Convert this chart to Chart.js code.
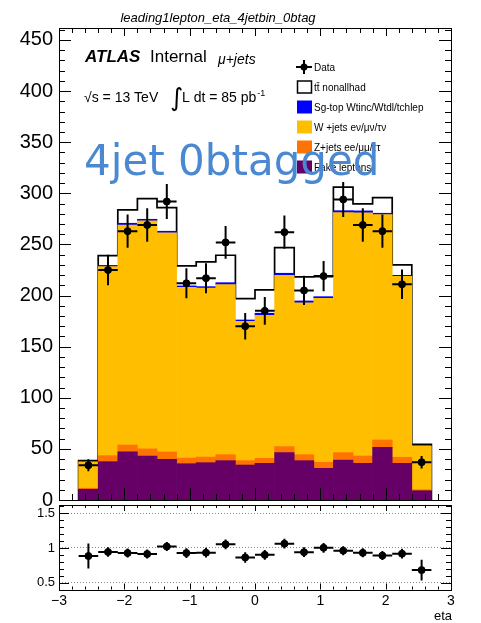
<!DOCTYPE html>
<html>
<head>
<meta charset="utf-8">
<script src="https://cdn.jsdelivr.net/npm/chart.js@4.4.1/dist/chart.umd.min.js"></script>
<style>
  html, body { margin: 0; padding: 0; background: #fff; }
  #wrap { position: relative; width: 481px; height: 623px; overflow: hidden; }
  #mainCanvas { position: absolute; left: 0; top: 0; }
  #ratioCanvas { position: absolute; left: 0; top: 500px; }
</style>
</head>
<body>
<div id="wrap">
  <canvas id="mainCanvas" width="481" height="510"></canvas>
  <canvas id="ratioCanvas" width="481" height="123"></canvas>
</div>
<script>
"use strict";

// eta bins (width 0.3)
const binCenters = [-2.55, -2.25, -1.95, -1.65, -1.35, -1.05, -0.75, -0.45, -0.15,
                    0.15, 0.45, 0.75, 1.05, 1.35, 1.65, 1.95, 2.25, 2.55];
const binEdges = [-2.7, -2.4, -2.1, -1.8, -1.5, -1.2, -0.9, -0.6, -0.3, 0,
                  0.3, 0.6, 0.9, 1.2, 1.5, 1.8, 2.1, 2.4, 2.7];

// stacked backgrounds, bottom to top
const fakeLeptons = [10.5, 37.5, 47, 43, 39.8, 35.5, 36.5, 38.5, 34.2, 35.9, 46.3, 38.5, 31, 39, 35.9, 51.5, 35.9, 9.1];
const zJets       = [1.0, 5.9, 6.8, 7, 7.2, 5.5, 5.5, 5.8, 4.3, 4.9, 5.9, 5.8, 5.9, 7.3, 7.1, 7.2, 5.9, 0.9];
const wJets       = [25.8, 184.9, 215, 223, 214.3, 167, 165.4, 166.4, 136.3, 139.9, 167.6, 148.5, 160.4, 234.8, 237.8, 220.5, 177.1, 42.8];
const singleTop   = [0.5, 1.2, 1.9, 1.6, 1.6, 1.4, 1.3, 1.9, 1.3, 2.0, 2.0, 1.9, 1.6, 1.9, 2.0, 1.3, 0.9, 0.4];
const ttbar       = [0.7, 9.5, 13.1, 20.2, 23.1, 19.6, 24.2, 26.8, 20.9, 22.8, 25.1, 23.5, 19.6, 23, 6.8, 15.3, 10.2, 1.2];

// data
const dataCounts = [34, 225, 263, 269, 292, 212, 217, 252, 170, 185, 262, 205, 219, 294, 269, 263, 211, 37];
const dataErr    = [5.8, 15, 16.2, 16.4, 17.1, 14.6, 14.7, 15.9, 13, 13.6, 16.2, 14.3, 14.8, 17.1, 16.4, 16.2, 14.5, 6.1];
const ratioErr   = [0.18, 0.07, 0.065, 0.065, 0.065, 0.07, 0.07, 0.07, 0.075, 0.07, 0.07, 0.07, 0.07, 0.065, 0.065, 0.065, 0.07, 0.15];

// tick labels
const mainYTicks = [0, 50, 100, 150, 200, 250, 300, 350, 400, 450];
const ratioXTicks = [-3, -2, -1, 0, 1, 2, 3];
const ratioYTicks = [0.5, 1, 1.5];

const COL = {
  fake: '#660066',
  z: '#ff7300',
  w: '#ffbf00',
  top: '#0000ff',
  tt: '#ffffff'
};
const FONT = 'Liberation Sans';

const totals = binCenters.map((_, i) => fakeLeptons[i] + zJets[i] + wJets[i] + singleTop[i] + ttbar[i]);
const ratio = binCenters.map((_, i) => dataCounts[i] / totals[i]);

const pts = arr => binCenters.map((x, i) => ({ x: x, y: arr[i] }));
const outline = [{ x: binEdges[0], y: 0 }]
  .concat(binCenters.map((_, i) => ({ x: binEdges[i], y: totals[i] })))
  .concat([{ x: binEdges[binEdges.length - 1], y: 0 }]);

const noPad = s => { s.paddingTop = 0; s.paddingBottom = 0; s.paddingLeft = 0; s.paddingRight = 0; };

// box + inward ticks on all four sides, ROOT style
function frameTicks(cfg) {
  const list = (scale, minor, per) => {
    const out = [];
    const k0 = Math.ceil(scale.min / minor - 1e-6), k1 = Math.floor(scale.max / minor + 1e-6);
    for (let k = k0; k <= k1; k++) out.push({ v: k * minor, major: k % per === 0 });
    return out;
  };
  return {
    id: 'frameTicks',
    afterDraw(chart) {
      const { ctx, chartArea: a } = chart;
      const x = chart.scales.x, y = chart.scales.y;
      ctx.save();
      ctx.strokeStyle = '#000';
      ctx.lineWidth = 1;
      ctx.beginPath();
      list(x, cfg.xMinor, cfg.xPer).forEach(t => {
        const px = Math.round(x.getPixelForValue(t.v)) + 0.5;
        ctx.moveTo(px, a.bottom); ctx.lineTo(px, a.bottom - (t.major ? cfg.xBottom[0] : cfg.xBottom[1]));
        ctx.moveTo(px, a.top); ctx.lineTo(px, a.top + (t.major ? cfg.xTop[0] : cfg.xTop[1]));
      });
      list(y, cfg.yMinor, cfg.yPer).forEach(t => {
        const py = Math.round(y.getPixelForValue(t.v)) + 0.5;
        const len = t.major ? cfg.yLen[0] : cfg.yLen[1];
        ctx.moveTo(a.left, py); ctx.lineTo(a.left + len, py);
        ctx.moveTo(a.right, py); ctx.lineTo(a.right - len, py);
      });
      ctx.stroke();
      ctx.strokeRect(Math.round(a.left) + 0.5, Math.round(a.top) + 0.5,
                     Math.round(a.right - a.left), Math.round(a.bottom - a.top));
      ctx.restore();
    }
  };
}

function errorBars(ys, errs) {
  return {
    id: 'errorBars',
    afterDatasetsDraw(chart) {
      const { ctx, chartArea: a } = chart;
      const x = chart.scales.x, y = chart.scales.y;
      ctx.save();
      ctx.beginPath();
      ctx.rect(a.left, a.top, a.right - a.left, a.bottom - a.top);
      ctx.clip();
      ctx.strokeStyle = '#000';
      ctx.lineWidth = 2;
      ctx.beginPath();
      binCenters.forEach((c, i) => {
        const px = x.getPixelForValue(c);
        const py = y.getPixelForValue(ys[i]);
        ctx.moveTo(x.getPixelForValue(binEdges[i]), py);
        ctx.lineTo(x.getPixelForValue(binEdges[i + 1]), py);
        ctx.moveTo(px, y.getPixelForValue(ys[i] - errs[i]));
        ctx.lineTo(px, y.getPixelForValue(ys[i] + errs[i]));
      });
      ctx.stroke();
      ctx.restore();
    }
  };
}

const labels = {
  id: 'labels',
  afterDraw(chart) {
    const ctx = chart.ctx;
    ctx.save();
    ctx.fillStyle = '#000';
    ctx.textBaseline = 'alphabetic';

    ctx.textAlign = 'center';
    ctx.font = 'italic 13px "' + FONT + '"';
    ctx.fillText('leading1lepton_eta_4jetbin_0btag', 218, 22);

    ctx.textAlign = 'left';
    ctx.font = 'italic bold 17px "' + FONT + '"';
    ctx.fillText('ATLAS', 85, 62);
    ctx.font = '17px "' + FONT + '"';
    ctx.fillText('Internal', 150, 62);
    ctx.font = 'italic 14px "' + FONT + '"';
    ctx.fillText('\u03bc+jets', 218, 64);

    ctx.font = '14px "' + FONT + '"';
    ctx.fillText('\u221as = 13 TeV', 84, 102);
    ctx.font = '25px "DejaVu Sans"';
    ctx.fillText('\u222b', 170, 106);
    ctx.font = '14px "' + FONT + '"';
    ctx.fillText('L dt = 85 pb', 182, 102);
    const w = ctx.measureText('L dt = 85 pb').width;
    ctx.font = '9px "' + FONT + '"';
    ctx.fillText('-1', 182 + w + 1, 96);

    // legend
    const rows = [
      { label: 'Data', kind: 'data' },
      { label: 'tt\u0304 nonallhad', color: COL.tt, edge: true },
      { label: 'Sg-top Wtinc/Wtdl/tchlep', color: COL.top },
      { label: 'W +jets e\u03bd/\u03bc\u03bd/\u03c4\u03bd', color: COL.w },
      { label: 'Z+jets ee/\u03bc\u03bc/\u03c4\u03c4', color: COL.z },
      { label: 'Fake leptons', color: COL.fake }
    ];
    ctx.font = '10px "' + FONT + '"';
    ctx.textBaseline = 'middle';
    rows.forEach((r, i) => {
      const cy = 67 + i * 20;
      if (r.kind === 'data') {
        ctx.strokeStyle = '#000';
        ctx.lineWidth = 2;
        ctx.beginPath();
        ctx.moveTo(296, cy); ctx.lineTo(312, cy);
        ctx.moveTo(304, cy - 7); ctx.lineTo(304, cy + 7);
        ctx.stroke();
        ctx.beginPath();
        ctx.arc(304, cy, 3.5, 0, Math.PI * 2);
        ctx.fill();
      } else {
        ctx.fillStyle = r.color;
        ctx.fillRect(297, cy - 6.5, 15, 13);
        if (r.edge) {
          ctx.strokeStyle = '#000';
          ctx.lineWidth = 1.5;
          ctx.strokeRect(297.5, cy - 6, 14, 12);
        }
      }
      ctx.fillStyle = '#000';
      ctx.fillText(r.label, 314, cy + 1);
    });

    ctx.textBaseline = 'alphabetic';
    ctx.fillStyle = '#4a89d2';
    ctx.font = '42px "DejaVu Sans"';
    ctx.fillText('4jet 0btagged', 84, 175);
    ctx.restore();
  }
};

const histBar = (label, arr, color, order) => ({
  label: label,
  data: pts(arr),
  backgroundColor: color,
  borderWidth: 0,
  stack: 'mc',
  order: order,
  barPercentage: 1,
  categoryPercentage: 1
});

new Chart(document.getElementById('mainCanvas'), {
  type: 'bar',
  data: {
    datasets: [
      histBar('Fake leptons', fakeLeptons, COL.fake, 1),
      histBar('Z+jets', zJets, COL.z, 1),
      histBar('W+jets', wJets, COL.w, 1),
      histBar('Sg-top', singleTop, COL.top, 1),
      histBar('ttbar', ttbar, COL.tt, 3),
      {
        type: 'line',
        label: 'total',
        data: outline,
        stepped: 'before',
        borderColor: '#000',
        borderWidth: 1.7,
        pointRadius: 0,
        fill: false,
        stack: 'outline',
        order: 2
      },
      {
        type: 'scatter',
        label: 'Data',
        data: pts(dataCounts),
        backgroundColor: '#000',
        borderColor: '#000',
        pointRadius: 3.5,
        stack: 'data',
        order: 0
      }
    ]
  },
  options: {
    responsive: false,
    animation: false,
    layout: { padding: { top: 28, right: 30, bottom: 10, left: 0 } },
    plugins: { legend: { display: false }, tooltip: { enabled: false } },
    scales: {
      x: { type: 'linear', min: -3, max: 3, stacked: true, offset: false, display: false },
      y: {
        min: 0, max: 461.7, stacked: true,
        grid: { display: false, drawTicks: false },
        border: { display: false },
        afterFit: s => { s.width = 59; noPad(s); },
        afterBuildTicks: s => { s.ticks = mainYTicks.map(v => ({ value: v })); },
        ticks: { font: { family: FONT, size: 20 }, color: '#000', padding: 6, autoSkip: false }
      }
    }
  },
  plugins: [
    errorBars(dataCounts, dataErr),
    frameTicks({ xMinor: 0.2, xPer: 5, xBottom: [12, 6], xTop: [8, 5], yMinor: 10, yPer: 5, yLen: [12, 6] }),
    labels
  ]
});

const etaLabel = {
  id: 'etaLabel',
  afterDraw(chart) {
    const ctx = chart.ctx;
    ctx.save();
    ctx.fillStyle = '#000';
    ctx.font = '13px "' + FONT + '"';
    ctx.textAlign = 'right';
    ctx.fillText('eta', 452, 120);
    ctx.restore();
  }
};

new Chart(document.getElementById('ratioCanvas'), {
  type: 'scatter',
  data: {
    datasets: [{
      label: 'Data/MC',
      data: pts(ratio),
      backgroundColor: '#000',
      borderColor: '#000',
      pointRadius: 3.5
    }]
  },
  options: {
    responsive: false,
    animation: false,
    layout: { padding: { top: 5, right: 30, bottom: 0, left: 0 } },
    plugins: { legend: { display: false }, tooltip: { enabled: false } },
    scales: {
      x: {
        type: 'linear', min: -3, max: 3,
        grid: { display: false, drawTicks: false },
        border: { display: false },
        afterFit: s => { s.height = 33.5; noPad(s); },
        afterBuildTicks: s => { s.ticks = ratioXTicks.map(v => ({ value: v })); },
        ticks: {
          font: { family: FONT, size: 14 }, color: '#000', padding: 3, maxRotation: 0, autoSkip: false,
          callback: v => String(v).replace('-', '\u2212')
        }
      },
      y: {
        min: 0.4, max: 1.62,
        grid: { color: '#8a8a8a', lineWidth: 1, drawTicks: false },
        border: { display: false, dash: [1, 2] },
        afterFit: s => { s.width = 59; noPad(s); },
        afterBuildTicks: s => { s.ticks = ratioYTicks.map(v => ({ value: v })); },
        ticks: { font: { family: FONT, size: 13 }, color: '#000', padding: 4, autoSkip: false, callback: v => String(v) }
      }
    }
  },
  plugins: [
    errorBars(ratio, ratioErr),
    frameTicks({ xMinor: 0.2, xPer: 5, xBottom: [6, 3], xTop: [6, 3], yMinor: 0.1, yPer: 5, yLen: [10, 5] }),
    etaLabel
  ]
});
</script>
</body>
</html>
